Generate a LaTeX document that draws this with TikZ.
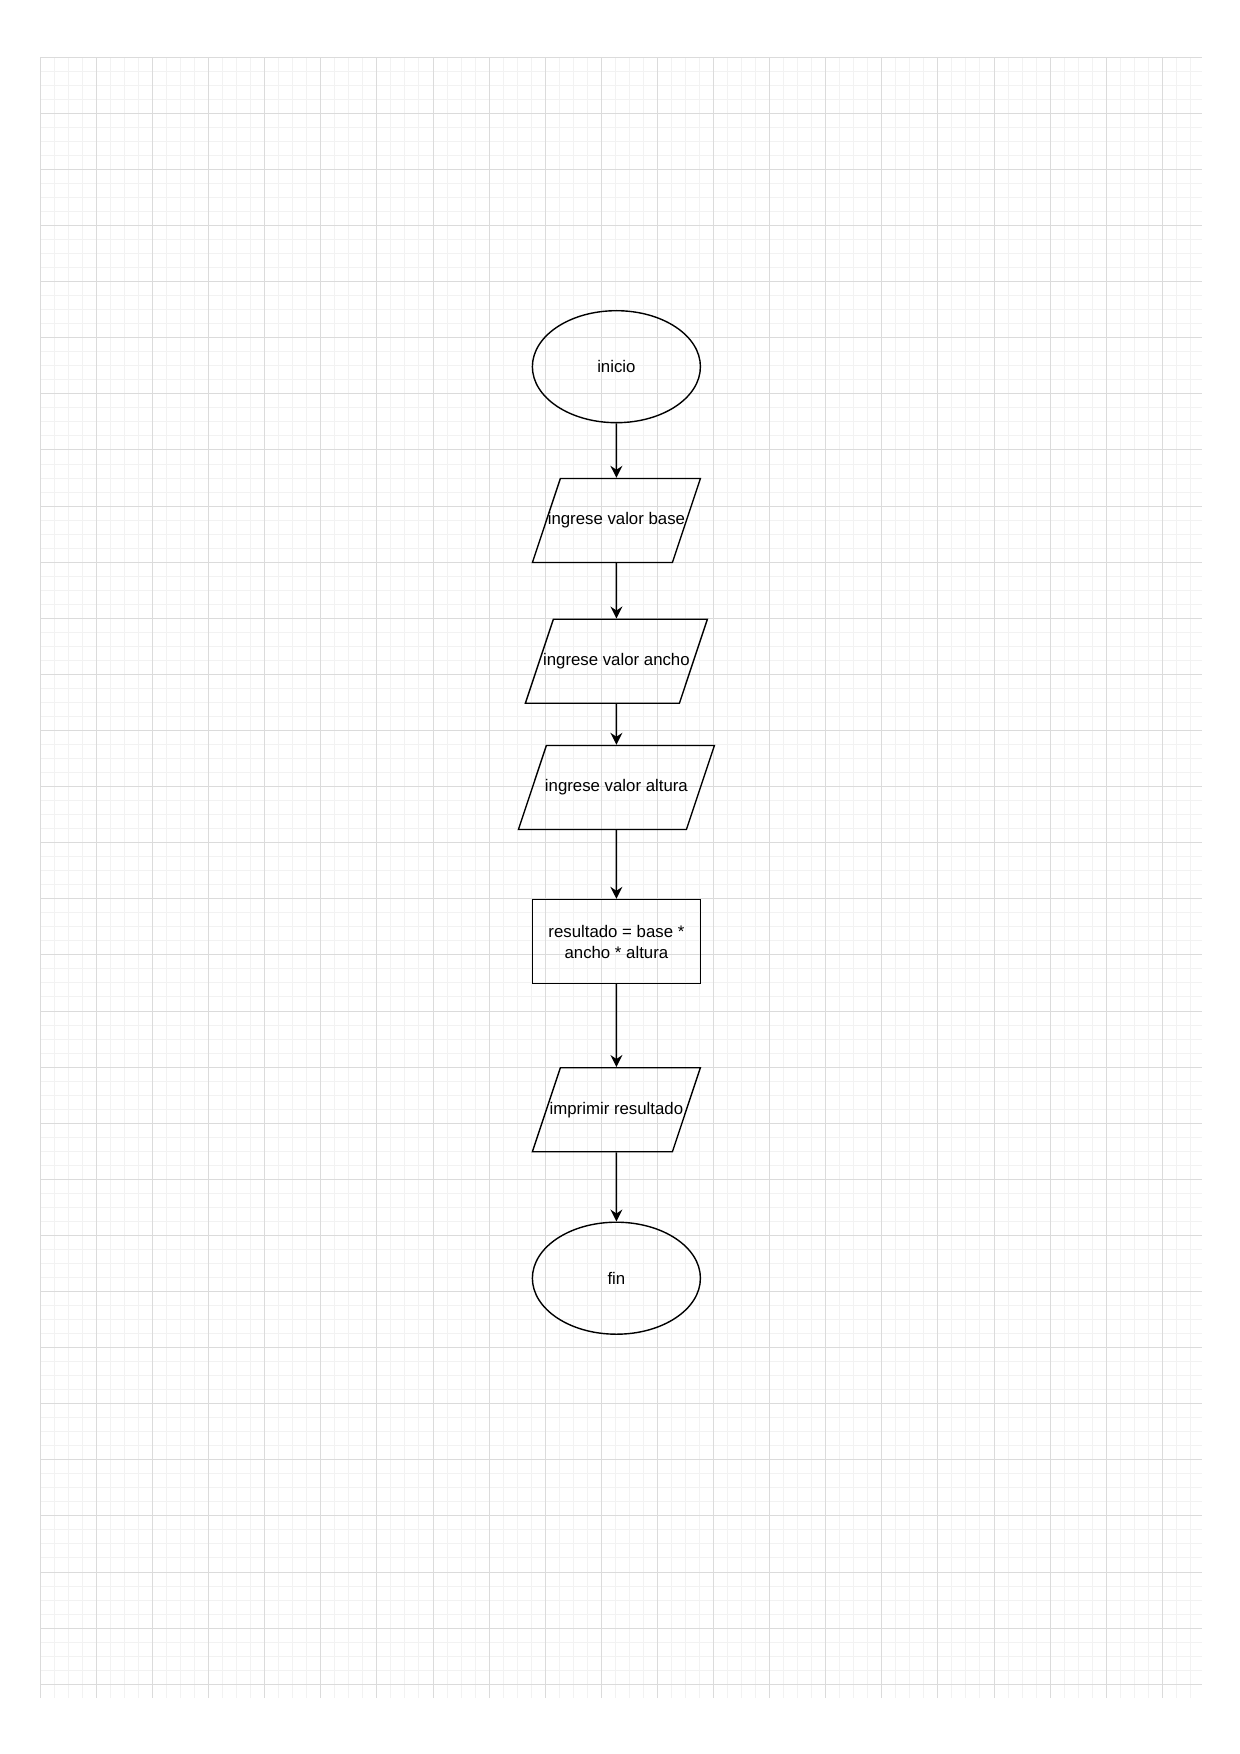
\documentclass[tikz,border=0pt]{standalone}
\usepackage{fontspec}
\setmainfont{Liberation Sans}
\usetikzlibrary{arrows.meta, shapes.geometric}

\begin{document}
\begin{tikzpicture}[x=0.5pt, y=-0.5pt,
  font=\fontsize{8.4}{10.5}\selectfont,
  rejilla/.style={gray!10, line width=0.5pt},
  rejillamayor/.style={gray!28, line width=0.5pt},
  terminal/.style={ellipse, draw, line width=0.7pt, minimum width=84pt, minimum height=56pt, inner sep=0pt},
  datos/.style={trapezium, trapezium left angle=71.57, trapezium right angle=108.43,
    trapezium stretches body=true, draw, line width=0.7pt, minimum width=84pt,
    text height=6.2pt, text depth=1.8pt, inner xsep=-12pt, inner ysep=17pt},
  proceso/.style={rectangle, draw, line width=0.7pt, minimum width=84pt, minimum height=42pt, align=center},
  flecha/.style={-{Stealth[length=6pt,width=6pt,inset=2pt]}, line width=0.7pt}]
  \useasboundingbox (0,0) rectangle (1240,1754);
  % rejilla de fondo (cuadro menor 14 px, mayor 56 px)
  \foreach \i in {1,...,82}{ \draw[rejilla] ({40.3+14.025*\i},57.3) -- ({40.3+14.025*\i},1697.7); }
  \foreach \j in {1,...,116}{ \draw[rejilla] (40.3,{57.3+14.025*\j}) -- (1201.7,{57.3+14.025*\j}); }
  \foreach \i in {0,...,20}{ \draw[rejillamayor] ({40.3+56.1*\i},57.3) -- ({40.3+56.1*\i},1697.7); }
  \foreach \j in {0,...,29}{ \draw[rejillamayor] (40.3,{57.3+56.1*\j}) -- (1201.7,{57.3+56.1*\j}); }
  % bloques del diagrama
  \node[terminal] (inicio) at (616.4,366.7) {inicio};
  \node[datos] (base) at (616.4,520.5) {ingrese valor base};
  \node[datos, minimum width=91pt] (ancho) at (616.4,661.2) {ingrese valor ancho};
  \node[datos, minimum width=98pt] (altura) at (616.4,787.5) {ingrese valor altura};
  \node[proceso] (resultado) at (616.4,941.5) {resultado = base *\\ancho * altura};
  \node[datos] (imprimir) at (616.4,1109.7) {imprimir resultado};
  \node[terminal] (fin) at (616.4,1278.2) {fin};
  % flechas
  \foreach \a/\b in {inicio/base, base/ancho, ancho/altura, altura/resultado, resultado/imprimir, imprimir/fin}{
    \draw[flecha] (\a) -- (\b);
  }
\end{tikzpicture}
\end{document}
